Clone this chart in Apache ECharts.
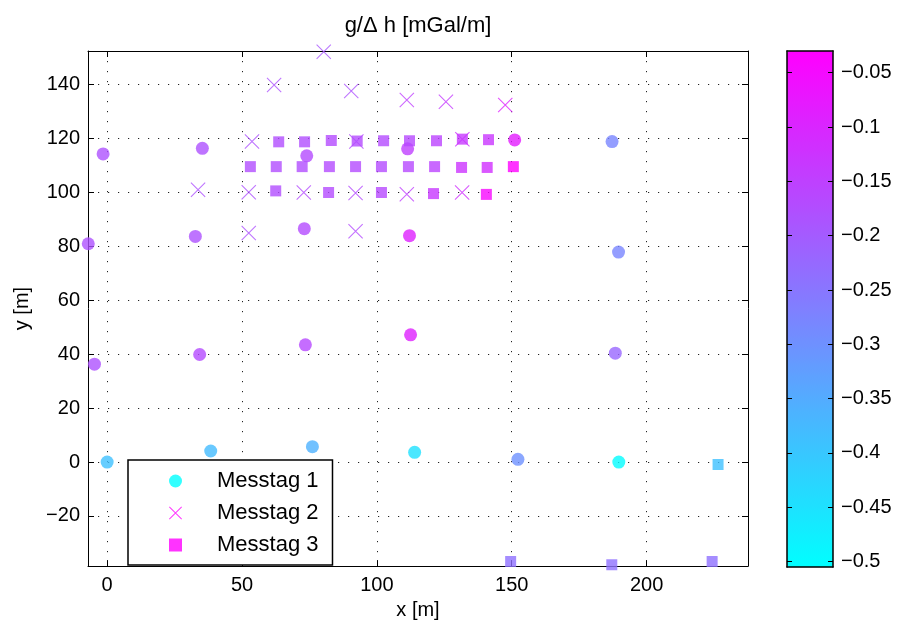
<!DOCTYPE html>
<html>
<head>
<meta charset="utf-8">
<script src="https://cdn.jsdelivr.net/npm/echarts@6/dist/echarts.min.js"></script>
<style>html,body{margin:0;padding:0;background:#fff}#c{width:899px;height:625px}</style>
</head>
<body>
<div id="c"></div>
<script>
// Messtag 1 (circles)
const m1X = [0, 38.4, 76.1, 114, 152.3, 189.7, -4.7, 34.3, 73.5, 112.5, 188.4, -7, 32.7, 73.1, 112.1, 189.6, -1.5, 35.3, 74, 111.4, 151.1, 187.2];
const m1Y = [0, 4.1, 5.7, 3.6, 1.0, 0, 36.3, 39.9, 43.5, 47.2, 40.4, 81, 83.7, 86.6, 84, 77.9, 114.3, 116.4, 113.6, 116.2, 119.5, 118.9];
const m1V = [-0.39, -0.38, -0.36, -0.45, -0.30, -0.50, -0.18, -0.17, -0.165, -0.09, -0.22, -0.18, -0.18, -0.17, -0.09, -0.28, -0.18, -0.18, -0.17, -0.15, -0.08, -0.28];
// Messtag 2 (crosses)
const m2X = [80.3, 61.9, 90.5, 111.1, 125.6, 147.6, 53.7, 92.4, 131.7, 33.7, 52.5, 72.9, 92.1, 111.1, 131.6, 52.5, 92.1];
const m2Y = [152.2, 139.9, 137.7, 134.3, 133.7, 132.5, 118.9, 118.9, 119.8, 101, 100.1, 100, 99.8, 99.4, 100, 85, 85.6];
const m2V = [-0.19, -0.18, -0.18, -0.15, -0.14, -0.09, -0.18, -0.17, -0.12, -0.18, -0.18, -0.17, -0.17, -0.15, -0.12, -0.18, -0.17];
// Messtag 3 (squares)
const m3X = [63.6, 73.2, 83.1, 92.7, 102.5, 112.1, 122.1, 131.7, 141.4,
             53.1, 62.7, 72.3, 82.4, 92.1, 101.7, 111.7, 121.4, 131.4, 140.9, 150.6,
             62.5, 82.1, 101.7, 121, 140.6,
             149.6, 187.1, 224.3, 226.5];
const m3Y = [118.8, 118.8, 119.3, 119.1, 119.2, 119.2, 119.2, 119.8, 119.6,
             109.6, 109.6, 109.6, 109.6, 109.6, 109.6, 109.6, 109.6, 109.3, 109.3, 109.6,
             100.6, 100, 100, 99.6, 99.3,
             -36.9, -38.1, -36.9, -0.9];
const m3V = [-0.175, -0.175, -0.17, -0.17, -0.17, -0.165, -0.155, -0.135, -0.13,
             -0.175, -0.175, -0.175, -0.17, -0.17, -0.17, -0.165, -0.155, -0.125, -0.115, -0.03,
             -0.175, -0.17, -0.165, -0.135, -0.045,
             -0.24, -0.24, -0.24, -0.39];

const seriesNames = ['Messtag 1', 'Messtag 2', 'Messtag 3'];
const xTicks = [0, 50, 100, 150, 200];
const yTicks = [-20, 0, 20, 40, 60, 80, 100, 120, 140];
const cTicks = [-0.5, -0.45, -0.4, -0.35, -0.3, -0.25, -0.2, -0.15, -0.1, -0.05];
const xRange = [-7.1, 237.6];
const yRange = [-38.6, 152.5];
const cRange = [-0.505, -0.03];

function zip(xs, ys, vs) { return xs.map((x, i) => [x, ys[i], vs[i]]); }
const FONT = 'Liberation Sans';
const crossPath = 'path://M0,5L5,0L100,95L95,100Z M95,0L100,5L5,100L0,95Z';
const minus = v => String(v).replace('-', '\u2212');

const gridLine = { show: true, lineStyle: { color: '#222', width: 1, type: [1.2, 8.8] } };
const lbl = { color: '#000', fontFamily: FONT, fontSize: 20 };

const chart = echarts.init(document.getElementById('c'), null, { renderer: 'canvas' });
chart.setOption({
  animation: false,
  backgroundColor: '#fff',
  grid: [
    { left: 88, right: 151, top: 51, bottom: 58, containLabel: false },
    { left: 787, width: 46, top: 51, bottom: 58, containLabel: false }
  ],
  xAxis: [
    { type: 'value', gridIndex: 0, position: 'bottom', min: xRange[0], max: xRange[1],
      name: 'x [m]', nameLocation: 'middle', nameGap: 27,
      nameTextStyle: { color: '#000', fontFamily: FONT, fontSize: 20 },
      axisLine: { show: true, onZero: false, lineStyle: { color: '#000', width: 1 } },
      axisTick: { show: true, inside: true, length: 6, customValues: xTicks, lineStyle: { color: '#000' } },
      axisLabel: Object.assign({ margin: 9, customValues: xTicks, formatter: minus }, lbl),
      splitLine: gridLine },
    { type: 'value', gridIndex: 0, position: 'top', min: xRange[0], max: xRange[1],
      name: 'g/\u0394 h [mGal/m]', nameLocation: 'middle', nameGap: 14,
      nameTextStyle: { color: '#000', fontFamily: FONT, fontSize: 22 },
      axisLine: { show: true, onZero: false, lineStyle: { color: '#000', width: 1 } },
      axisTick: { show: true, inside: true, length: 6, customValues: xTicks, lineStyle: { color: '#000' } },
      axisLabel: { show: false }, splitLine: { show: false } },
    { type: 'value', gridIndex: 1, position: 'bottom', min: 0, max: 1, z: 10,
      axisLine: { show: true, onZero: false, lineStyle: { color: '#000', width: 1.5 } },
      axisTick: { show: false }, axisLabel: { show: false }, splitLine: { show: false } },
    { type: 'value', gridIndex: 1, position: 'top', min: 0, max: 1, z: 10,
      axisLine: { show: true, onZero: false, lineStyle: { color: '#000', width: 1.5 } },
      axisTick: { show: false }, axisLabel: { show: false }, splitLine: { show: false } }
  ],
  yAxis: [
    { type: 'value', gridIndex: 0, position: 'left', min: yRange[0], max: yRange[1],
      name: 'y [m]', nameLocation: 'middle', nameGap: 56, nameRotate: 90,
      nameTextStyle: { color: '#000', fontFamily: FONT, fontSize: 20 },
      axisLine: { show: true, onZero: false, lineStyle: { color: '#000', width: 1 } },
      axisTick: { show: true, inside: true, length: 6, customValues: yTicks, lineStyle: { color: '#000' } },
      axisLabel: Object.assign({ margin: 8, customValues: yTicks, formatter: minus }, lbl),
      splitLine: gridLine },
    { type: 'value', gridIndex: 0, position: 'right', min: yRange[0], max: yRange[1],
      axisLine: { show: true, onZero: false, lineStyle: { color: '#000', width: 1 } },
      axisTick: { show: true, inside: true, length: 6, customValues: yTicks, lineStyle: { color: '#000' } },
      axisLabel: { show: false }, splitLine: { show: false } },
    { type: 'value', gridIndex: 1, position: 'right', min: cRange[0], max: cRange[1], z: 10,
      axisLine: { show: true, onZero: false, lineStyle: { color: '#000', width: 1.5 } },
      axisTick: { show: true, inside: true, length: 5, customValues: cTicks, lineStyle: { color: '#000' } },
      axisLabel: Object.assign({ margin: 8, customValues: cTicks, formatter: minus }, lbl),
      splitLine: { show: false } },
    { type: 'value', gridIndex: 1, position: 'left', min: cRange[0], max: cRange[1], z: 10,
      axisLine: { show: true, onZero: false, lineStyle: { color: '#000', width: 1.5 } },
      axisTick: { show: true, inside: true, length: 5, customValues: cTicks, lineStyle: { color: '#000' } },
      axisLabel: { show: false }, splitLine: { show: false } }
  ],
  visualMap: {
    type: 'continuous', min: cRange[0], max: cRange[1], dimension: 2,
    seriesIndex: [0, 1, 2], calculable: false, realtime: false,
    left: 787, top: 51, itemWidth: 46, itemHeight: 516, padding: 0,
    text: null, showLabel: false, hoverLink: false,
    inRange: { color: ['#00ffff', '#ff00ff'] }
  },
  legend: {
    orient: 'vertical', left: 128, top: 460,
    padding: [10, 14, 9, 41], itemGap: 10, itemWidth: 13, itemHeight: 13,
    backgroundColor: '#fff', borderColor: '#000', borderWidth: 1.5, borderRadius: 0,
    textStyle: { color: '#000', fontFamily: FONT, fontSize: 22, lineHeight: 22, padding: [0, 0, 0, 30] },
    selectedMode: false,
    data: [
      { name: seriesNames[0], icon: 'circle', itemStyle: { color: '#00ffff' } },
      { name: seriesNames[1], icon: crossPath, itemStyle: { color: '#ff00ff' } },
      { name: seriesNames[2], icon: 'rect', itemStyle: { color: '#ff00ff' } }
    ]
  },
  series: [
    { name: seriesNames[0], type: 'scatter', xAxisIndex: 0, yAxisIndex: 0, symbol: 'circle', symbolSize: 13,
      data: zip(m1X, m1Y, m1V) },
    { name: seriesNames[1], type: 'scatter', xAxisIndex: 0, yAxisIndex: 0, symbol: crossPath, symbolSize: 15,
      data: zip(m2X, m2Y, m2V) },
    { name: seriesNames[2], type: 'scatter', xAxisIndex: 0, yAxisIndex: 0, symbol: 'rect', symbolSize: 11,
      data: zip(m3X, m3Y, m3V) }
  ]
});
</script>
</body>
</html>
